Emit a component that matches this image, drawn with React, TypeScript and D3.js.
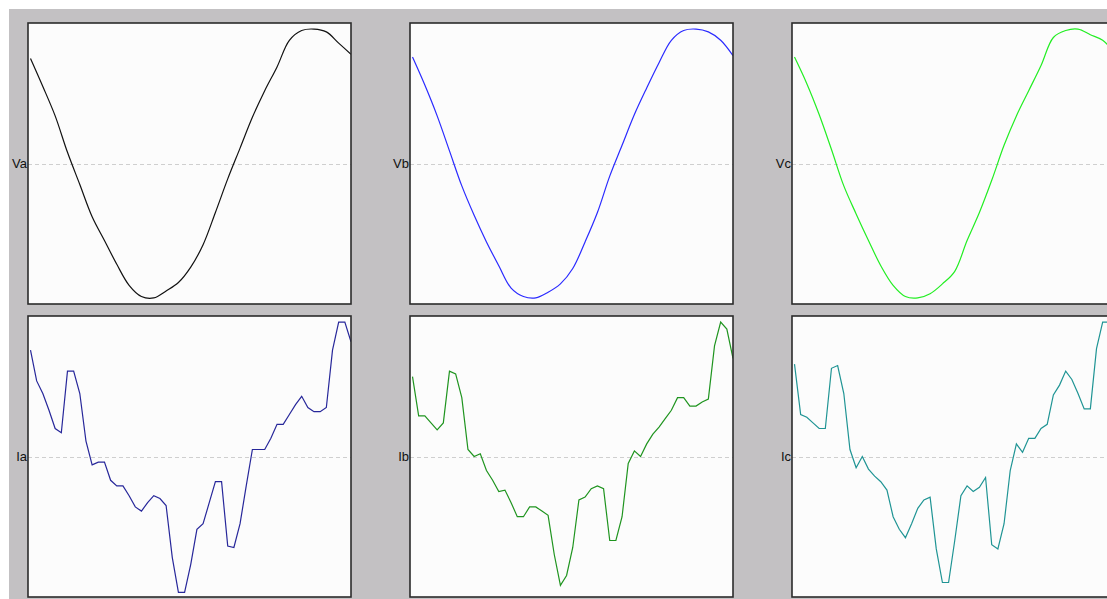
import React, { useRef, useEffect } from 'react';
import * as d3 from 'd3';

// voltage traces, % of full scale, 27 samples across the window
const va = [75, 55, 34, 8, -15, -38, -55, -72, -87, -95, -96, -91, -85, -74, -58, -35, -11, 11, 33, 52, 69, 88, 95, 96, 94, 86, 78];
const vb = [76, 56, 34, 9, -16, -37, -56, -73, -89, -95, -96, -92, -86, -75, -56, -35, -9, 13, 35, 54, 72, 88, 95, 96, 94, 88, 77];
const vc = [76, 57, 35, 10, -16, -36, -55, -73, -87, -95, -96, -93, -86, -77, -55, -35, -12, 13, 34, 52, 70, 90, 95, 96, 92, 88, 79];

// current traces, % of full scale, 53 samples across the window
const ia = [76, 54, 45, 33, 20, 17, 61, 61, 45, 11, -6, -4, -4, -17, -21, -21, -28, -36, -39, -33, -28, -30, -35, -72, -97, -97, -77, -52, -48, -33, -18, -18, -64, -65, -48, -21, 5, 5, 5, 13, 23, 23, 30, 37, 43, 35, 32, 32, 35, 76, 96, 96, 82];
const ib = [57, 29, 29, 24, 19, 24, 61, 59, 42, 5, 0, 2, -10, -17, -25, -24, -33, -43, -43, -36, -36, -39, -42, -70, -92, -85, -65, -31, -29, -23, -21, -23, -60, -60, -43, -5, 4, 0, 9, 16, 21, 27, 33, 42, 42, 36, 36, 39, 41, 79, 96, 91, 70];
const ic = [66, 30, 28, 24, 20, 20, 63, 65, 45, 5, -8, 0, -9, -14, -18, -24, -43, -52, -58, -48, -37, -31, -29, -66, -90, -90, -60, -28, -21, -25, -22, -15, -63, -66, -48, -10, 9, 3, 13, 13, 20, 23, 44, 51, 61, 55, 45, 34, 34, 77, 96, 96, 82];

const labels = ['Va', 'Vb', 'Vc', 'Ia', 'Ib', 'Ic'];
const series = [va, vb, vc, ia, ib, ic];
const colors = ['#111111', '#2a2aff', '#22ee22', '#27279a', '#1f941f', '#1f9494'];

const W = 1107;
const H = 599;

const App = () => {
  const ref = useRef<SVGSVGElement>(null);

  useEffect(() => {
    const svg = d3.select(ref.current);
    svg.selectAll('*').remove();

    svg.append('rect').attr('width', W).attr('height', H).attr('fill', '#ffffff');
    svg.append('rect').attr('x', 9).attr('y', 9).attr('width', W - 9).attr('height', H - 9).attr('fill', '#c3c1c3');

    // panel grid
    const col = d3.scaleBand<number>().domain([0, 1, 2]).range([28, 28 + 382 * 3]).paddingInner(0);
    const row = d3.scaleBand<number>().domain([0, 1]).range([23, 23 + 293 * 2]);
    const pw = 323;
    const ph = 281;

    labels.forEach((label, k) => {
      const c = k % 3;
      const r = Math.floor(k / 3);
      const x0 = col(c)!;
      const y0 = row(r)!;
      const mid = y0 + ph / 2;
      const data = series[k];

      const g = svg.append('g');
      const clipId = `clip-${k}`;
      g.append('clipPath').attr('id', clipId)
        .append('rect').attr('x', x0).attr('y', y0).attr('width', pw).attr('height', ph);

      g.append('rect')
        .attr('x', x0).attr('y', y0).attr('width', pw).attr('height', ph)
        .attr('fill', '#fcfcfc');

      const x = d3.scaleLinear().domain([0, data.length - 1]).range([x0 + 2.5, x0 + pw]);
      const y = d3.scaleLinear().domain([-100, 100]).range([mid + 140, mid - 140]);

      g.append('line')
        .attr('x1', x0).attr('x2', x0 + pw)
        .attr('y1', Math.round(y(0)) + 0.5).attr('y2', Math.round(y(0)) + 0.5)
        .attr('stroke', '#cfcfcf').attr('stroke-dasharray', '4,3');

      // voltages are smooth, currents are drawn sample to sample
      const line = d3.line<number>()
        .x((d, i) => x(i))
        .y((d) => y(d))
        .curve(r === 0 ? d3.curveCatmullRom : d3.curveLinear);
      g.append('path')
        .attr('d', line(data))
        .attr('clip-path', `url(#${clipId})`)
        .attr('fill', 'none')
        .attr('stroke', colors[k])
        .attr('stroke-width', 1.2);

      g.append('rect')
        .attr('x', x0).attr('y', y0).attr('width', pw).attr('height', ph)
        .attr('fill', 'none').attr('stroke', '#2b2b2b').attr('stroke-width', 1.6);

      g.append('text')
        .attr('x', x0 - 1).attr('y', y(0))
        .attr('dy', '0.35em')
        .attr('text-anchor', 'end')
        .attr('font-family', 'Liberation Sans, Arial, sans-serif')
        .attr('font-size', 13)
        .attr('fill', '#111')
        .text(label);
    });
  }, []);

  return (
    <svg ref={ref} width={W} height={H} style={{ position: 'absolute', left: 0, top: 0, display: 'block' }} />
  );
};

export default App;
